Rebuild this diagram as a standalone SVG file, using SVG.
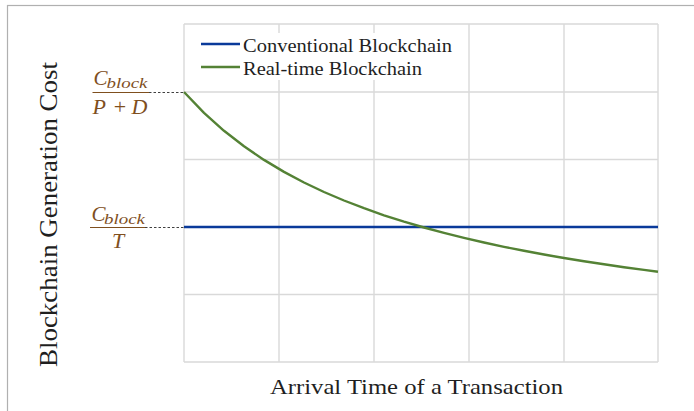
<svg xmlns="http://www.w3.org/2000/svg" width="694" height="411" viewBox="0 0 694 411">
  <style>
    .grid { stroke: #d9d9d9; stroke-width: 1.4; fill: none; }
    .lbl { font-family: "Liberation Serif", "Times New Roman", serif; fill: #1f1f1f; }
    .math { font-family: "Liberation Serif", "Times New Roman", serif; font-style: italic; fill: #7f4f1e; }
    .mathup { font-family: "Liberation Serif", "Times New Roman", serif; fill: #7f4f1e; }
    .bar { stroke: #7f4f1e; stroke-width: 1.2; }
    .lead { stroke: #404040; stroke-width: 1; stroke-dasharray: 2.5 2; }
    .conv { stroke: #0a3a9a; stroke-width: 2.4; fill: none; }
    .rt { stroke: #548235; stroke-width: 2.4; fill: none; stroke-linejoin: round; }
  </style>

  <rect width="694" height="411" fill="#ffffff"/>
  <!-- chart frame (clipped by the canvas on the right and bottom) -->
  <rect x="7.5" y="5.5" width="720" height="440" fill="none" stroke="#b0b0b0" stroke-width="1.2"/>

  <!-- plot-area grid -->
  <g id="grid">
    <path class="grid" d="M184,24V362 M279,24V362 M374,24V362 M469,24V362 M564,24V362 M658,24V362"/>
    <path class="grid" d="M184,24H658 M184,92H658 M184,159.5H658 M184,227H658 M184,294.5H658 M184,362H658"/>
  </g>

  <!-- data series -->
  <g id="series">
    <line id="conventional" class="conv" x1="184" y1="227" x2="658" y2="227"/>
    <path id="realtime" class="rt" d="M184,92 L204,112.9 224,130.8 244,146.3 264,159.9 284,171.9 304,182.5 324,192 344,200.5 364,208.2 384,215.3 404,221.7 424,227.5 444,232.9 464,237.9 484,242.5 504,246.8 524,250.8 544,254.5 564,258 584,261.3 604,264.3 624,267.2 644,269.9 658,271.7"/>
  </g>

  <!-- legend -->
  <g id="legend">
    <rect x="195" y="33" width="262" height="47" fill="#ffffff"/>
    <line class="conv" x1="201" y1="44" x2="240" y2="44"/>
    <text class="lbl" x="243" y="52" font-size="19" textLength="209" lengthAdjust="spacingAndGlyphs">Conventional Blockchain</text>
    <line class="rt" x1="201" y1="67" x2="240" y2="67"/>
    <text class="lbl" x="243" y="75" font-size="19" textLength="179" lengthAdjust="spacingAndGlyphs">Real-time Blockchain</text>
  </g>

  <!-- level labels with leader lines -->
  <g id="label-max">
    <text class="math" x="93.5" y="85" font-size="21">C</text>
    <text class="math" x="106.5" y="87.5" font-size="15.5" textLength="41" lengthAdjust="spacingAndGlyphs">block</text>
    <line class="bar" x1="92.5" y1="92.5" x2="149" y2="92.5"/>
    <text class="math" x="92.5" y="113.5" font-size="22">P</text>
    <text class="mathup" x="120" y="113.5" font-size="22" text-anchor="middle">+</text>
    <text class="math" x="131.5" y="113.5" font-size="22">D</text>
    <line class="lead" x1="149" y1="92.5" x2="184" y2="92.5"/>
  </g>
  <g id="label-const">
    <text class="math" x="91.5" y="220.5" font-size="21">C</text>
    <text class="math" x="104" y="223.5" font-size="15.5" textLength="41" lengthAdjust="spacingAndGlyphs">block</text>
    <line class="bar" x1="90" y1="227.5" x2="145" y2="227.5"/>
    <text class="math" x="118" y="248.3" font-size="22" text-anchor="middle">T</text>
    <line class="lead" x1="145" y1="227.5" x2="184" y2="227.5"/>
  </g>

  <!-- axis titles -->
  <g id="axis-titles">
    <text class="lbl" x="270" y="394" font-size="21.5" textLength="293" lengthAdjust="spacingAndGlyphs">Arrival Time of a Transaction</text>
    <text class="lbl" transform="translate(57,367) rotate(-90)" font-size="24.5" textLength="305" lengthAdjust="spacingAndGlyphs">Blockchain Generation Cost</text>
  </g>
</svg>
